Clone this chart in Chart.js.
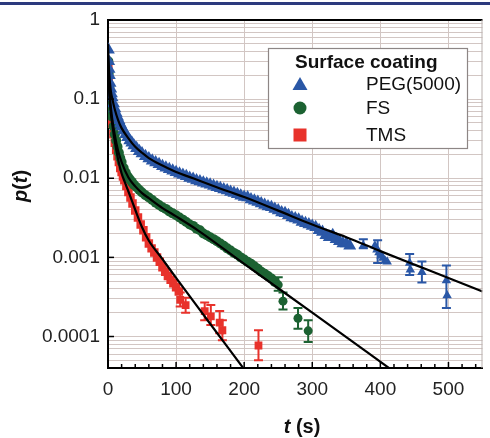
<!DOCTYPE html>
<html><head><meta charset="utf-8">
<script src="https://cdn.jsdelivr.net/npm/chart.js@4.4.0/dist/chart.umd.min.js"></script>
<style>
html,body{margin:0;padding:0;background:#fff;}
#wrap{position:relative;width:490px;height:438px;overflow:hidden;background:#fff;}
#bar{position:absolute;left:0;top:2px;width:490px;height:3px;background:#2c3a7e;}
canvas{position:absolute;left:0;top:0;}
</style></head><body>
<div id="wrap"><canvas id="c" width="490" height="438"></canvas><div id="bar"></div></div>
<script>
// ---------- data ----------
const seriesNames = ['PEG(5000)', 'FS', 'TMS'];
const legendTitle = 'Surface coating';

// dense part of each survival curve
const pegT = [0.5,1,1.5,2,3,4,5,6,8,10,12,14,16,18,20,23,26,29,32,35,38,42,46,50,55,60,65,70,75,80,85,90,95,100,105,110,115,120,125,130,135,140,145,150,155,160,165,170,175,180,185,190,195,200,205,210,215,220,225,230,235,240,245,250,255,260,265,270,275,280,285,290,295,300,305,310,315,320,325,330,335,340,345,350,355];
const pegP = [0.42,0.30,0.24,0.20,0.16,0.135,0.118,0.105,0.088,0.076,0.067,0.060,0.054,0.049,0.045,0.040,0.036,0.033,0.030,0.028,0.026,0.024,0.022,0.0205,0.019,0.0178,0.0166,0.0158,0.0150,0.0142,0.0136,0.0130,0.0124,0.0119,0.0114,0.0110,0.0106,0.0101,0.0098,0.0094,0.0091,0.0088,0.0085,0.0083,0.0080,0.0077,0.0075,0.0072,0.0070,0.0067,0.0065,0.0063,0.0060,0.0058,0.0057,0.0054,0.0052,0.0050,0.0048,0.0046,0.0044,0.0043,0.0041,0.0039,0.0037,0.0036,0.0034,0.0032,0.0031,0.0030,0.0028,0.0027,0.0026,0.0025,0.0024,0.0022,0.0021,0.0019,0.0018,0.0019,0.0017,0.0016,0.0015,0.0015,0.0014];
// sparse tail points
const pegSparseT = [375,392,395,398,401,404,407,410,443,444,461,497,498];
const pegSparseP = [0.0014,0.0014,0.00125,0.00115,0.00105,0.00098,0.0009,0.00088,0.00085,0.00070,0.00065,0.00051,0.00033];
const pegErrT  = [375, 396, 443, 461, 497];
const pegErrLo = [0.0013, 0.00085, 0.0006, 0.00048, 0.00023];
const pegErrHi = [0.0017, 0.00165, 0.0011, 0.00089, 0.00079];

const fsT = [0.5,1,2,3,4,5,6,8,10,12,14,16,18,20,23,26,29,32,35,38,42,46,50,55,60,65,70,75,80,85,90,95,100,105,110,115,120,125,130,135,140,145,150,155,160,165,170,175,180,185,190,195,200,205,210,215,220,225,230,235,240,245];
const fsP = [0.30,0.21,0.14,0.105,0.085,0.070,0.060,0.045,0.036,0.030,0.025,0.021,0.018,0.016,0.0135,0.0118,0.0105,0.0097,0.0090,0.0083,0.0077,0.0071,0.0066,0.0061,0.0057,0.0053,0.0049,0.0046,0.0043,0.0041,0.0038,0.0036,0.0034,0.0032,0.0030,0.0028,0.0026,0.0025,0.0023,0.0022,0.0020,0.0019,0.0018,0.0017,0.0016,0.0015,0.0014,0.0013,0.00122,0.00114,0.00108,0.00100,0.00094,0.00088,0.00083,0.00077,0.00072,0.00066,0.00062,0.00058,0.00054,0.00049];
const fsSparseT = [250,257,279,294];
const fsSparseP = [0.00045,0.00028,0.00017,0.000118];
const fsErrT  = [250, 257, 279, 294];
const fsErrLo = [0.00038, 0.00022, 0.000125, 0.000085];
const fsErrHi = [0.00056, 0.00036, 0.00023, 0.00016];

const tmsT = [0.5,1,2,3,4,5,6,8,10,12,14,16,18,20,22,24,27,30,33,36,40,44,48,52,56,60,64,68,72,76,80,84,88,92,96,100,104];
const tmsP = [0.25,0.17,0.11,0.083,0.068,0.058,0.049,0.036,0.028,0.023,0.019,0.016,0.0135,0.0120,0.0105,0.0094,0.0080,0.0067,0.0057,0.0048,0.0039,0.0032,0.0026,0.0022,0.0018,0.0015,0.0013,0.00115,0.00100,0.00088,0.00075,0.00066,0.00058,0.00052,0.00047,0.00042,0.00037];
const tmsSparseT = [106,114,142,151,164,168,221];
const tmsSparseP = [0.00029,0.00025,0.00021,0.00018,0.00015,0.00012,0.000077];
const tmsErrT  = [106, 114, 142, 151, 164, 168, 221];
const tmsErrLo = [0.00024, 0.0002, 0.00016, 0.00014, 0.00011, 0.00009, 0.00005];
const tmsErrHi = [0.00036, 0.00031, 0.00027, 0.00025, 0.00021, 0.00016, 0.00012];

// fitted curves (black lines)
const pegFitT = [0,1,2,4,7,10,15,20,30,40,50,60,80,100,125,150,175,200,250,300,350,400,450,500,550];
const pegFitP = [0.50,0.28,0.20,0.13,0.095,0.074,0.054,0.043,0.032,0.025,0.021,0.018,0.0145,0.012,0.010,0.0083,0.0069,0.0058,0.0039,0.0026,0.0018,0.0012,0.00081,0.00055,0.00037];
const fsFitT = [0,1,2,4,6,10,15,20,30,40,50,60,80,100,132,200,300,420];
const fsFitP = [0.35,0.20,0.135,0.082,0.058,0.035,0.022,0.016,0.0102,0.0079,0.0065,0.0056,0.0042,0.0033,0.0022,0.00083,0.00020,0.000036];
const tmsFitT = [0,1,2,4,7,10,15,20,25,30,40,50,60,80,100,150,200,210];
const tmsFitP = [0.30,0.17,0.11,0.068,0.043,0.029,0.017,0.0115,0.0088,0.0068,0.0040,0.0024,0.00162,0.00095,0.00055,0.000145,0.0000385,0.0000295];

const xTickValues = [0,100,200,300,400,500];
const yDecades = [0.0001,0.001,0.01,0.1,1];
const yTickLabels = ['0.0001','0.001','0.01','0.1','1'];

// ---------- styling ----------
const BLUE = '#2a57a6', GREEN = '#1c6232', RED = '#e8322b';
const GRID = '#d2c6c3';
Chart.defaults.font.family = "'Liberation Sans', Arial, Helvetica, sans-serif";

const pts = (T, P) => T.map((t, i) => ({x: t, y: P[i]}));

const errSets = [
  {t: pegErrT, lo: pegErrLo, hi: pegErrHi, c: BLUE},
  {t: fsErrT, lo: fsErrLo, hi: fsErrHi, c: GREEN},
  {t: tmsErrT, lo: tmsErrLo, hi: tmsErrHi, c: RED}
];

const decor = {
  id: 'decor',
  beforeDatasetsDraw(chart) {
    const {ctx, chartArea: a, scales: {x, y}} = chart;
    ctx.save();
    ctx.beginPath(); ctx.rect(a.left, a.top, a.right - a.left, a.bottom - a.top); ctx.clip();
    ctx.lineWidth = 2;
    errSets.forEach(s => {
      ctx.strokeStyle = s.c;
      s.t.forEach((t, i) => {
        const px = x.getPixelForValue(t), y1 = y.getPixelForValue(s.hi[i]), y2 = y.getPixelForValue(s.lo[i]);
        ctx.beginPath();
        ctx.moveTo(px, y1); ctx.lineTo(px, y2);
        ctx.moveTo(px - 4.5, y1); ctx.lineTo(px + 4.5, y1);
        ctx.moveTo(px - 4.5, y2); ctx.lineTo(px + 4.5, y2);
        ctx.stroke();
      });
    });
    ctx.restore();
  },
  afterDraw(chart) {
    const {ctx, chartArea: a, scales: {x, y}} = chart;
    ctx.save();
    ctx.strokeStyle = '#000'; ctx.lineWidth = 2;
    ctx.beginPath(); ctx.moveTo(a.left - 1, a.top); ctx.lineTo(a.right, a.top); ctx.stroke();
    ctx.strokeStyle = '#b9b0ae'; ctx.lineWidth = 1;
    ctx.beginPath(); ctx.moveTo(a.right - 0.5, a.top); ctx.lineTo(a.right - 0.5, a.bottom); ctx.stroke();
    ctx.strokeStyle = '#000'; ctx.lineWidth = 1.5;
    for (let t = 0; t <= x.max; t += 20) {
      const px = x.getPixelForValue(t);
      const len = (t % 100 === 0) ? 6 : 4;
      ctx.beginPath(); ctx.moveTo(px, a.bottom); ctx.lineTo(px, a.bottom - len); ctx.stroke();
    }
    yDecades.forEach(d => {
      const py = y.getPixelForValue(d);
      ctx.beginPath(); ctx.moveTo(a.left, py); ctx.lineTo(a.left + 6, py); ctx.stroke();
    });
    ctx.fillStyle = '#111';
    ctx.textBaseline = 'middle';
    const bi = "italic bold 20px 'Liberation Sans', Arial, sans-serif";
    const b = "bold 20px 'Liberation Sans', Arial, sans-serif";
    const drawRich = (parts, cx, cy) => {
      let w = 0;
      parts.forEach(p => { ctx.font = p[1]; w += ctx.measureText(p[0]).width; });
      let xx = cx - w / 2;
      parts.forEach(p => { ctx.font = p[1]; ctx.textAlign = 'left'; ctx.fillText(p[0], xx, cy); xx += ctx.measureText(p[0]).width; });
    };
    drawRich([['t', bi], [' (s)', b]], 302, 427);
    ctx.save();
    ctx.translate(21, 186); ctx.rotate(-Math.PI / 2);
    drawRich([['p', bi], ['(', b], ['t', bi], [')', b]], 0, 0);
    ctx.restore();
    const L = 268, T = 48, R = 467, B = 148;
    ctx.fillStyle = '#fff'; ctx.fillRect(L, T, R - L, B - T);
    ctx.strokeStyle = '#8d8685'; ctx.lineWidth = 1.2; ctx.strokeRect(L + 0.5, T + 0.5, R - L, B - T);
    ctx.fillStyle = '#111'; ctx.font = "bold 19px 'Liberation Sans', Arial, sans-serif";
    ctx.textAlign = 'left'; ctx.textBaseline = 'middle';
    ctx.fillText(legendTitle, 295, 63);
    const rows = [84, 108, 135];
    const cols = [BLUE, GREEN, RED];
    ctx.font = "19px 'Liberation Sans', Arial, sans-serif";
    seriesNames.forEach((n, i) => {
      const cy = rows[i];
      ctx.fillStyle = cols[i];
      ctx.beginPath();
      if (i === 0) { ctx.moveTo(300, cy - 7); ctx.lineTo(307.5, cy + 6); ctx.lineTo(292.5, cy + 6); ctx.closePath(); ctx.fill(); }
      else if (i === 1) { ctx.arc(300, cy, 6.5, 0, Math.PI * 2); ctx.fill(); }
      else { ctx.fillRect(293.5, cy - 6.5, 13, 13); }
      ctx.fillStyle = '#111';
      ctx.fillText(n, 366, cy + 1);
    });
    ctx.restore();
  }
};

const fitLine = (label, T, P) => ({label, type: 'line', data: pts(T, P), borderColor: '#000', borderWidth: 2.2, pointRadius: 0, fill: false, cubicInterpolationMode: 'monotone', order: 0});
const scatter = (label, T, P, style, r, c, ord) => ({label, data: pts(T, P), pointStyle: style, pointRadius: r, backgroundColor: c, borderColor: c, borderWidth: 0, order: ord});

new Chart(document.getElementById('c'), {
  type: 'scatter',
  data: {
    datasets: [
      fitLine('PEG fit', pegFitT, pegFitP),
      fitLine('FS fit', fsFitT, fsFitP),
      fitLine('TMS fit', tmsFitT, tmsFitP),
      scatter(seriesNames[0], pegT, pegP, 'triangle', 7.5, BLUE, 1),
      scatter(seriesNames[0], pegSparseT, pegSparseP, 'triangle', 5.5, BLUE, 1),
      scatter(seriesNames[1], fsT, fsP, 'circle', 5, GREEN, 2),
      scatter(seriesNames[1], fsSparseT, fsSparseP, 'circle', 4.5, GREEN, 2),
      scatter(seriesNames[2], tmsT, tmsP, 'rect', 6, RED, 3),
      scatter(seriesNames[2], tmsSparseT, tmsSparseP, 'rect', 5.5, RED, 3)
    ]
  },
  options: {
    responsive: false,
    animation: false,
    events: [],
    layout: {padding: {left: 0, top: 20, right: 2, bottom: 0}},
    plugins: {legend: {display: false}, tooltip: {enabled: false}},
    scales: {
      x: {
        type: 'linear', min: 0, max: 550,
        afterBuildTicks(s) { s.ticks = xTickValues.map(v => ({value: v})); },
        ticks: {font: {size: 19}, color: '#222', padding: 10, maxRotation: 0, autoSkip: false},
        grid: {color: GRID, lineWidth: 1, drawTicks: false},
        border: {color: '#000', width: 2},
        afterFit(s) { s.height = 70; }
      },
      y: {
        type: 'logarithmic', min: 0.00004, max: 1,
        afterBuildTicks(s) {
          const out = [];
          [0.00001].concat(yDecades).forEach(d => {
            for (let m = 1; m <= 9; m++) {
              const v = +(m * d).toPrecision(6);
              if (v >= s.min - 1e-12 && v <= s.max + 1e-12) out.push({value: v});
            }
          });
          s.ticks = out;
        },
        ticks: {
          autoSkip: false, font: {size: 19}, color: '#222', padding: 8,
          callback(v) {
            const i = yDecades.findIndex(d => Math.abs(d - v) / d < 1e-6);
            return i >= 0 ? yTickLabels[i] : '';
          }
        },
        grid: {color: GRID, lineWidth: 1, drawTicks: false},
        border: {color: '#000', width: 2},
        afterFit(s) { s.width = 108; }
      }
    }
  },
  plugins: [decor]
});
</script>
</body></html>
